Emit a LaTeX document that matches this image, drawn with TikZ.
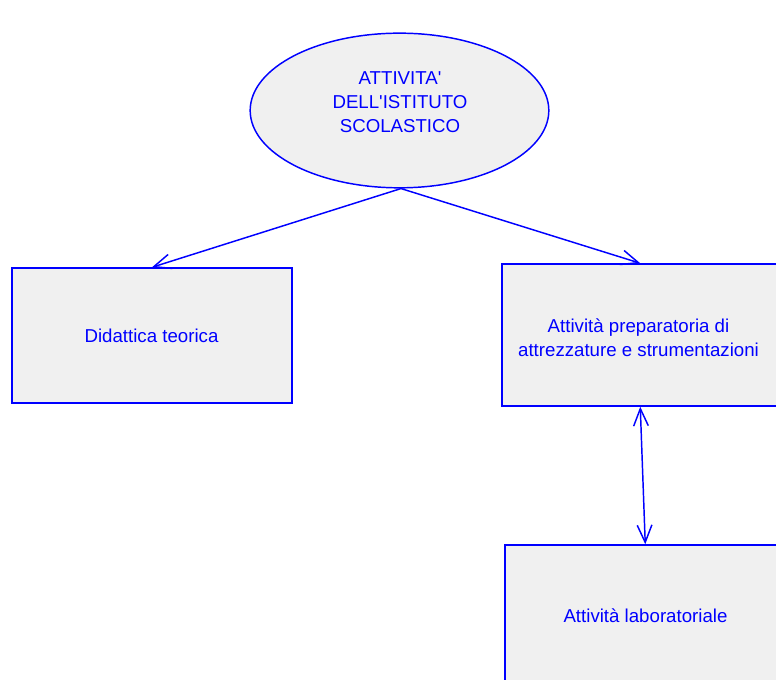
\documentclass[tikz,border=0pt]{standalone}
\usepackage{fontspec}
\setmainfont{Liberation Sans}
\usetikzlibrary{shapes.geometric,arrows.meta,calc}
\definecolor{boxfill}{RGB}{240,240,240}
\definecolor{inkblue}{RGB}{0,0,255}
\begin{document}
\begin{tikzpicture}[x=0.75pt,y=-0.75pt,
  every node/.style={font=\fontsize{14}{18}\selectfont, text=inkblue, align=center},
  topic/.style={ellipse, draw=inkblue, fill=boxfill, line width=1.1pt,
    minimum width=224pt, minimum height=116pt, inner sep=0pt},
  block/.style={rectangle, draw=inkblue, fill=boxfill, line width=1.1pt, inner sep=0pt},
  link/.style={draw=inkblue, line width=1.1pt, -{Straight Barb[length=13pt,width=11pt]}},
  dlink/.style={draw=inkblue, line width=1.1pt, {Straight Barb[length=13pt,width=11pt]}-{Straight Barb[length=13pt,width=11pt]}}]
\useasboundingbox (0,0) rectangle (776,680);
\clip (0,0) rectangle (776,680);
% shapes
\node[topic] (ist) at (399.5,110.5) {};
\node[block, minimum width=210pt, minimum height=101.25pt] (did) at (152,335.5) {};
\node[block, minimum width=225pt, minimum height=106.5pt] (prep) at (652,335) {};
\node[block, minimum width=225pt, minimum height=106.5pt] (lab) at (655,616) {};
% texts
\node (istT) at (400,102) {ATTIVITA\textquotesingle\\DELL\textquotesingle ISTITUTO\\SCOLASTICO};
\node (didT) at (151.5,335.5) {Didattica teorica};
\node (prepT) at (638.5,337.5) {Attività preparatoria di\\attrezzature e strumentazioni};
\node (labT) at (645.5,616) {Attività laboratoriale};
% connectors
\coordinate (tipA) at (did.north);
\coordinate (tipB) at ($(prep.north west)+(139,0)$);
\coordinate (tipC) at ($(prep.south west)+(139,0)$);
\coordinate (tipD) at ($(lab.north west)+(141,0)$);
\draw[link] ($(ist.south)+(1.5,0)$) -- (tipA);
\draw[link] ($(ist.south)+(1.5,0)$) -- (tipB);
\draw[dlink] (tipC) -- (tipD);
\end{tikzpicture}
\end{document}
